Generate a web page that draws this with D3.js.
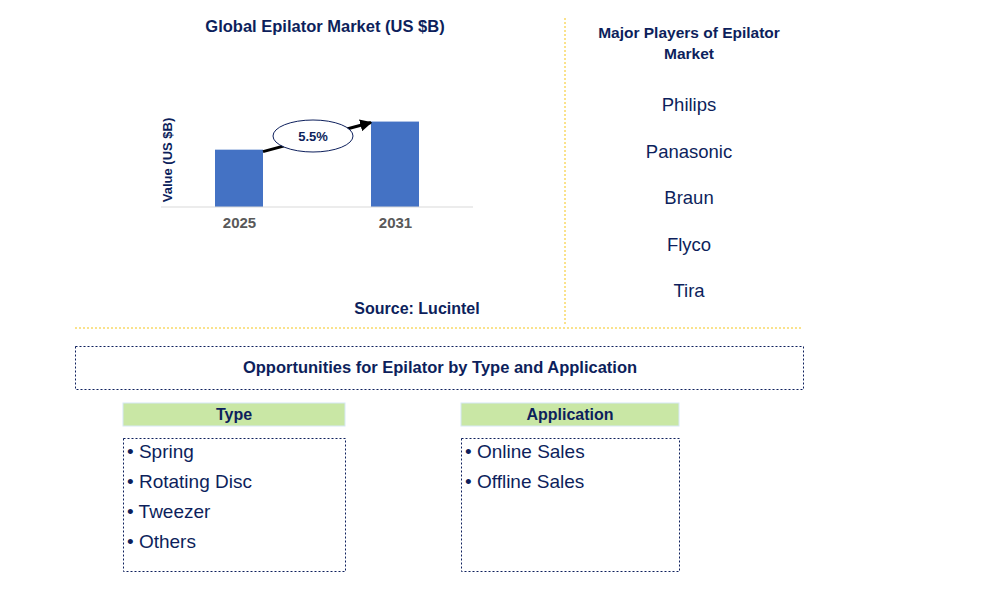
<!DOCTYPE html><html><head><meta charset="utf-8"><script src="https://cdn.jsdelivr.net/npm/d3@7"></script>
<style>body{margin:0;background:#fff}text{font-family:Arial,"Liberation Sans",sans-serif}</style></head><body>
<svg id="c" width="996" height="612"></svg>
<script>
const years=["2025","2031"];
const values=[1.0,1.49];
const cagr="5.5%";
const players=["Philips","Panasonic","Braun","Flyco","Tira"];
const types=["Spring","Rotating Disc","Tweezer","Others"];
const apps=["Online Sales","Offline Sales"];
const navy="#0d1f5c";
const svg=d3.select("#c");
const x=d3.scalePoint().domain(years).range([161,473]).padding(0.5);
const y=d3.scaleLinear().domain([0,1.5]).range([207,121]);
svg.append("text").attr("x",325).attr("y",32).attr("text-anchor","middle").attr("font-weight","bold").attr("font-size",16.5).attr("fill",navy).text("Global Epilator Market (US $B)");
svg.selectAll("rect.bar").data(values).enter().append("rect").attr("class","bar")
 .attr("x",(d,i)=>x(years[i])-24).attr("width",48).attr("y",d=>y(d)).attr("height",d=>y(0)-y(d)).attr("fill","#4472c4");
svg.append("line").attr("x1",161).attr("x2",473).attr("y1",y(0)).attr("y2",y(0)).attr("stroke","#d9d9d9");
const ax=svg.append("g").attr("transform",`translate(0,${y(0)})`).call(d3.axisBottom(x).tickSize(0).tickPadding(10));
ax.select(".domain").remove();
ax.selectAll("text").attr("font-size",15).attr("font-weight","bold").attr("fill","#595959").attr("font-family","Arial");
svg.append("text").attr("transform","translate(172,160) rotate(-90)").attr("text-anchor","middle").attr("font-weight","bold").attr("font-size",13).attr("fill",navy).text("Value (US $B)");
svg.append("defs").append("marker").attr("id","ah").attr("viewBox","0 0 10 10").attr("refX",9).attr("refY",5).attr("markerWidth",4).attr("markerHeight",4).attr("orient","auto").append("path").attr("d","M0,0L10,5L0,10z").attr("fill","#000");
svg.append("line").attr("x1",x(years[0])+24).attr("y1",y(values[0])+2).attr("x2",x(years[1])-24).attr("y2",y(values[1])+1).attr("stroke","#000").attr("stroke-width",3).attr("marker-end","url(#ah)");
svg.append("ellipse").attr("cx",313).attr("cy",136).attr("rx",40).attr("ry",16).attr("fill","#fff").attr("stroke",navy);
svg.append("text").attr("x",313).attr("y",141).attr("text-anchor","middle").attr("font-size",13).attr("font-weight","bold").attr("fill",navy).text(cagr);
svg.append("text").attr("x",417).attr("y",314).attr("text-anchor","middle").attr("font-weight","bold").attr("font-size",16).attr("fill",navy).text("Source: Lucintel");
const yel="#f5c518";
svg.append("line").attr("x1",565).attr("x2",565).attr("y1",18).attr("y2",326).attr("stroke",yel).attr("stroke-dasharray","2,2");
svg.append("line").attr("x1",75).attr("x2",803).attr("y1",328).attr("y2",328).attr("stroke",yel).attr("stroke-dasharray","2,2");
svg.append("text").attr("x",689).attr("y",38).attr("text-anchor","middle").attr("font-weight","bold").attr("font-size",15.5).attr("fill",navy).text("Major Players of Epilator");
svg.append("text").attr("x",689).attr("y",59).attr("text-anchor","middle").attr("font-weight","bold").attr("font-size",15.5).attr("fill",navy).text("Market");
svg.selectAll("text.pl").data(players).enter().append("text").attr("x",689).attr("y",(d,i)=>111+i*46.5).attr("text-anchor","middle").attr("font-size",18.5).attr("fill",navy).text(d=>d);
svg.append("rect").attr("x",75.5).attr("y",346.5).attr("width",728).attr("height",43).attr("fill","none").attr("stroke",navy).attr("stroke-dasharray","2,2");
svg.append("text").attr("x",440).attr("y",373).attr("text-anchor","middle").attr("font-weight","bold").attr("font-size",16.5).attr("fill",navy).text("Opportunities for Epilator by Type and Application");
function panel(x0,w,title,items){
 svg.append("rect").attr("x",x0).attr("y",403).attr("width",w).attr("height",23).attr("fill","#c9e7a5").attr("stroke","#d6e8f5");
 svg.append("text").attr("x",x0+w/2).attr("y",420).attr("text-anchor","middle").attr("font-weight","bold").attr("font-size",16).attr("fill",navy).text(title);
 svg.append("rect").attr("x",x0+0.5).attr("y",438.5).attr("width",w).attr("height",133).attr("fill","none").attr("stroke",navy).attr("stroke-dasharray","2,2");
 svg.selectAll(null).data(items).enter().append("text").attr("x",x0+4).attr("y",(d,i)=>458+i*30).attr("font-size",19).attr("fill",navy).text(d=>"• "+d);
}
panel(123,222,"Type",types);
panel(461,218,"Application",apps);
</script></body></html>
